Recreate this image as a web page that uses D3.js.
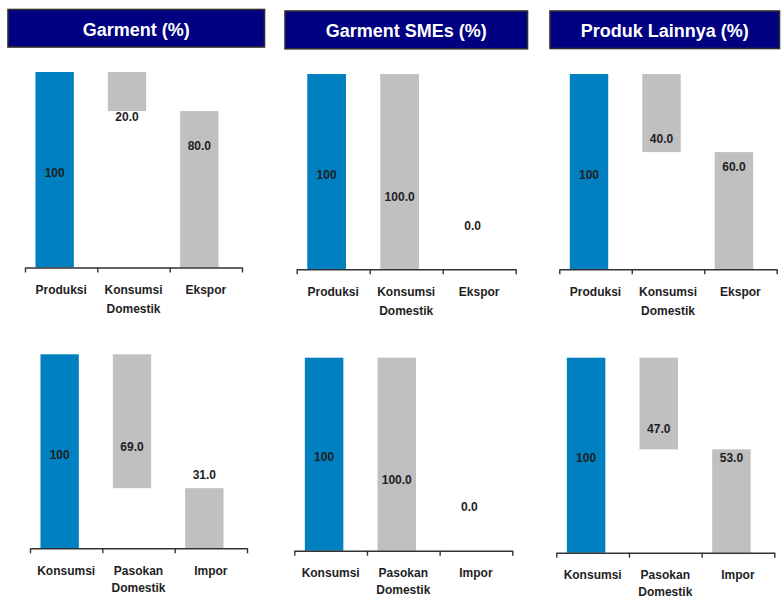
<!DOCTYPE html>
<html>
<head>
<meta charset="utf-8">
<script src="https://cdn.jsdelivr.net/npm/d3@7"></script>
<style>
  html, body { margin: 0; padding: 0; background: #ffffff; }
  svg { display: block; }
  text { font-family: "Liberation Sans", Arial, sans-serif; font-weight: bold; }
</style>
</head>
<body>
<svg id="chart" width="782" height="599"></svg>
<script>
// Panel titles, one per column
const titles = ["Garment (%)", "Garment SMEs (%)", "Produk Lainnya (%)"];

// Categories of the supply-side (top) and demand-side (bottom) waterfalls
const supplyCategories = ["Produksi", "Konsumsi Domestik", "Ekspor"];
const demandCategories = ["Konsumsi", "Pasokan Domestik", "Impor"];

// Values per column: Garment, Garment SMEs, Produk Lainnya
const production = [100, 100, 100];
const domesticConsumption = [20.0, 100.0, 40.0];
const exportShare = [80.0, 0.0, 60.0];

const consumption = [100, 100, 100];
const domesticSupply = [69.0, 100.0, 47.0];
const importShare = [31.0, 0.0, 53.0];

const blue = "#0080c0";
const grey = "#c0c0c0";
const navy = "#000080";
const ink = "#1e1e24";

const svg = d3.select("#chart");

// Title banners
const titleBoxes = [
  { x0: 8, x1: 264.5, y0: 9.5, y1: 47 },
  { x0: 285, x1: 527.5, y0: 11, y1: 48.8 },
  { x0: 550, x1: 779.5, y0: 11, y1: 48.5 }
];
titles.forEach((t, i) => {
  const b = titleBoxes[i];
  svg.append("rect")
    .attr("x", b.x0).attr("y", b.y0)
    .attr("width", b.x1 - b.x0).attr("height", b.y1 - b.y0)
    .attr("fill", navy)
    .attr("stroke", "#2e2e2e").attr("stroke-width", 1.6);
  svg.append("text")
    .attr("x", (b.x0 + b.x1) / 2)
    .attr("y", (b.y0 + b.y1) / 2 + 1)
    .attr("dy", "0.35em")
    .attr("text-anchor", "middle")
    .attr("fill", "#ffffff")
    .attr("font-size", 18)
    .text(t);
});

// Plot frames: left/right end of the axis, top (100%) and baseline
const topFrames = [
  { x0: 25, x1: 242, yTop: 72, yBase: 267.5 },
  { x0: 296.7, x1: 515.7, yTop: 74, yBase: 269.3 },
  { x0: 559.3, x1: 776.7, yTop: 74, yBase: 269.3 }
];
const bottomFrames = [
  { x0: 30, x1: 247, yTop: 354.3, yBase: 548.3 },
  { x0: 294.3, x1: 512.3, yTop: 357.7, yBase: 550.7 },
  { x0: 556.3, x1: 774.3, yTop: 357.7, yBase: 552.7 }
];

// Value-label vertical shift (px) from each bar's middle, by bar position
const labelShift = [3, 25.5, -43.5];

function drawWaterfall(frame, categories, total, middle, last, lineGap) {
  const g = svg.append("g");

  const x = d3.scaleBand().domain(categories).range([frame.x0, frame.x1])
    .paddingInner(0).paddingOuter(0);
  const y = d3.scaleLinear().domain([0, 100]).range([frame.yBase, frame.yTop]);

  // Bars: total from zero, middle floating on top of the last, last from zero
  const bars = [
    { cat: categories[0], lo: 0, hi: total, value: total, color: blue, fmt: d3.format("d") },
    { cat: categories[1], lo: total - middle, hi: total, value: middle, color: grey, fmt: d3.format(".1f") },
    { cat: categories[2], lo: 0, hi: last, value: last, color: grey, fmt: d3.format(".1f") }
  ];

  const bw = x.bandwidth();
  const barOffset = bw * 0.145;
  const barWidth = bw * 0.53;

  g.selectAll("rect.bar").data(bars).join("rect")
    .attr("class", "bar")
    .attr("x", d => x(d.cat) + barOffset)
    .attr("width", barWidth)
    .attr("y", d => y(d.hi))
    .attr("height", d => y(d.lo) - y(d.hi))
    .attr("fill", d => d.color);

  g.selectAll("text.val").data(bars).join("text")
    .attr("class", "val")
    .attr("x", d => x(d.cat) + barOffset + barWidth / 2)
    .attr("y", (d, i) => (y(d.lo) + y(d.hi)) / 2 + labelShift[i])
    .attr("dy", "0.35em")
    .attr("text-anchor", "middle")
    .attr("font-size", 12)
    .attr("fill", ink)
    .text(d => d.fmt(d.value));

  // Baseline axis with ticks on category boundaries
  const edges = d3.scaleLinear().domain([0, categories.length]).range([frame.x0, frame.x1]);
  const axis = g.append("g")
    .attr("transform", `translate(0,${frame.yBase})`)
    .call(d3.axisBottom(edges)
      .tickValues(d3.range(categories.length + 1))
      .tickSize(5).tickSizeOuter(0).tickFormat(""));
  axis.select(".domain").attr("stroke", "#333").attr("stroke-width", 1.6);
  axis.selectAll(".tick line").attr("stroke", "#333").attr("stroke-width", 1.4);

  // Category labels, split onto two lines where needed
  const labels = g.selectAll("text.cat").data(categories).join("text")
    .attr("class", "cat")
    .attr("x", d => x(d) + bw / 2)
    .attr("y", frame.yBase + 22)
    .attr("text-anchor", "middle")
    .attr("font-size", 12)
    .attr("fill", ink);
  labels.each(function (d) {
    const el = d3.select(this);
    const x0 = el.attr("x");
    d.split(" ").forEach((w, k) => {
      el.append("tspan").attr("x", x0).attr("dy", k === 0 ? "0.35em" : lineGap).text(w);
    });
  });
}

titles.forEach((t, i) => {
  drawWaterfall(topFrames[i], supplyCategories, production[i], domesticConsumption[i], exportShare[i], 19);
  drawWaterfall(bottomFrames[i], demandCategories, consumption[i], domesticSupply[i], importShare[i], 17);
});
</script>
</body>
</html>
